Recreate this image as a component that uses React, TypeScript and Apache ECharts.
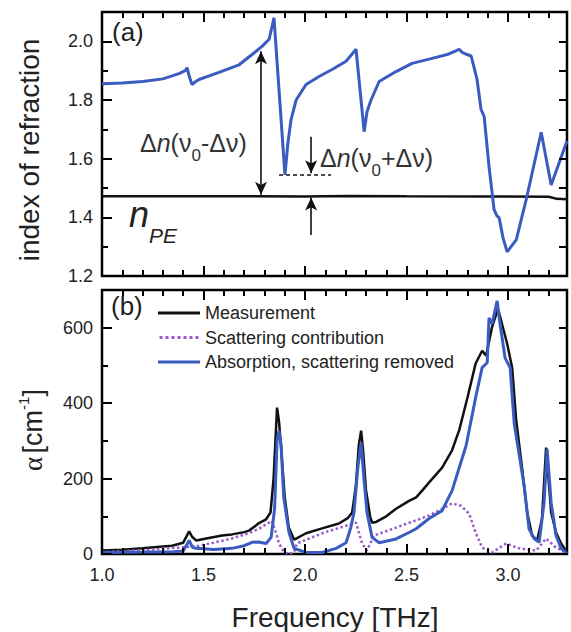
import React, { useEffect, useRef } from 'react';
import * as echarts from 'echarts';

// ---------- data (frequency in THz, value) ----------
const refractionIndex: number[][] = [
  [1.0, 1.855], [1.1, 1.858], [1.2, 1.863], [1.3, 1.872], [1.379, 1.89], [1.41, 1.9], [1.419, 1.91],
  [1.43, 1.88], [1.443, 1.853], [1.46, 1.862], [1.478, 1.87], [1.576, 1.894], [1.675, 1.92],
  [1.739, 1.955], [1.788, 1.983], [1.823, 2.007], [1.847, 2.08], [1.901, 1.545], [1.915, 1.65],
  [1.931, 1.733], [1.956, 1.8], [2.005, 1.853], [2.069, 1.88], [2.133, 1.904], [2.202, 1.932],
  [2.251, 1.973], [2.291, 1.692], [2.305, 1.76], [2.325, 1.8], [2.365, 1.863], [2.448, 1.897],
  [2.527, 1.925], [2.626, 1.942], [2.7, 1.955], [2.759, 1.973], [2.774, 1.962], [2.798, 1.955],
  [2.818, 1.95], [2.847, 1.87], [2.867, 1.767], [2.882, 1.744], [2.906, 1.573], [2.931, 1.426],
  [2.945, 1.405], [2.956, 1.398], [2.975, 1.33], [2.995, 1.282], [3.04, 1.323], [3.089, 1.46],
  [3.163, 1.69], [3.212, 1.51], [3.29, 1.66],
];

const indexPE: number[][] = [
  [1.0, 1.472], [1.5, 1.472], [2.0, 1.471], [2.2, 1.473], [2.5, 1.472], [2.9, 1.471], [3.2, 1.47],
  [3.24, 1.463], [3.29, 1.462],
];

const measurement: number[][] = [
  [1.0, 9], [1.1, 11], [1.2, 15], [1.3, 20], [1.345, 22], [1.4, 30], [1.429, 60], [1.445, 45], [1.463, 36],
  [1.52, 42], [1.591, 49], [1.64, 52], [1.7, 58], [1.724, 62], [1.75, 72], [1.773, 82], [1.808, 92],
  [1.83, 110], [1.845, 200], [1.862, 388], [1.872, 350], [1.885, 260], [1.9, 150], [1.92, 70], [1.946, 38],
  [1.956, 41], [2.005, 55], [2.084, 68], [2.167, 81], [2.21, 95], [2.232, 110], [2.25, 180], [2.265, 290],
  [2.276, 327], [2.285, 280], [2.3, 170], [2.32, 100], [2.33, 83], [2.35, 85], [2.4, 100], [2.448, 120],
  [2.512, 141], [2.547, 150], [2.58, 170], [2.611, 190], [2.675, 229], [2.724, 275], [2.76, 330],
  [2.8, 415], [2.84, 505], [2.872, 539], [2.892, 526], [2.92, 600], [2.95, 650], [2.97, 610],
  [2.995, 558], [3.02, 494], [3.039, 359], [3.069, 226], [3.094, 110], [3.118, 49], [3.143, 36],
  [3.167, 94], [3.187, 282], [3.212, 110], [3.236, 57], [3.261, 28], [3.29, 4],
];

const scattering: number[][] = [
  [1.0, 5], [1.2, 10], [1.4, 18], [1.478, 22], [1.55, 30], [1.64, 41], [1.72, 55], [1.773, 67],
  [1.837, 88], [1.855, 60], [1.872, 28], [1.897, 4], [1.92, 0], [1.946, 5], [1.96, 28], [2.034, 44],
  [2.1, 58], [2.202, 75], [2.251, 83], [2.281, 28], [2.305, 9], [2.34, 49], [2.448, 70], [2.611, 102],
  [2.724, 134], [2.768, 128], [2.808, 107], [2.842, 54], [2.872, 17], [2.921, 4], [2.99, 28],
  [3.054, 15], [3.138, 9], [3.187, 41], [3.236, 17], [3.29, 4],
];

const absorption: number[][] = [
  [1.0, 4], [1.2, 5], [1.35, 6], [1.4, 8], [1.429, 36], [1.445, 18], [1.463, 15], [1.55, 12], [1.64, 15],
  [1.7, 22], [1.739, 31], [1.77, 32], [1.808, 28], [1.833, 44], [1.85, 120], [1.862, 300], [1.872, 327],
  [1.882, 290], [1.895, 150], [1.921, 57], [1.946, 15], [2.005, 4], [2.084, 4], [2.153, 15], [2.202, 30],
  [2.225, 70], [2.241, 110], [2.26, 230], [2.276, 295], [2.29, 200], [2.305, 110], [2.33, 44],
  [2.365, 30], [2.448, 40], [2.512, 57], [2.547, 67], [2.611, 94], [2.675, 115], [2.724, 168],
  [2.793, 287], [2.842, 420], [2.872, 494], [2.897, 507], [2.906, 626], [2.921, 610], [2.946, 671],
  [2.956, 626], [2.985, 520], [3.01, 494], [3.03, 346], [3.079, 181], [3.103, 67], [3.128, 41],
  [3.153, 31], [3.177, 136], [3.192, 279], [3.212, 136], [3.236, 49], [3.261, 15], [3.29, 1],
];

const legendNames = ['Measurement', 'Scattering contribution', 'Absorption, scattering removed'];

// tick positions
const xTicks = [1.0, 1.1, 1.2, 1.3, 1.4, 1.5, 1.6, 1.7, 1.8, 1.9, 2.0, 2.1, 2.2, 2.3, 2.4, 2.5, 2.6, 2.7, 2.8, 2.9, 3.0, 3.1, 3.2];
const yTicksA = [1.2, 1.3, 1.4, 1.5, 1.6, 1.7, 1.8, 1.9, 2.0];
const yTicksB = [0, 100, 200, 300, 400, 500, 600];

// annotation anchors (data coordinates of panel a)
const arrowLeft = { x: 1.783, from: 1.477, to: 1.966 };
const dashedLevel = { y: 1.545, from: 1.872, to: 2.128 };
const arrowDown = { x: 2.03, from: 1.675, to: 1.55 };
const arrowUp = { x: 2.03, from: 1.34, to: 1.468 };

const FONT = '"Liberation Sans", Arial, Helvetica, sans-serif';
const X_MIN = 1.0;
const X_MAX = 3.29;
const YA = [1.2, 2.1];
const YB = [0, 700];
const GRID_LEFT = 102;
const GRID_W = 465;
const GRID_H = 264;

const BLUE = '#3a5bc0';
const PURPLE = '#9a5ccc';
const INK = '#111';

function xAx(grid: number, labels: boolean) {
  return {
    type: 'value', gridIndex: grid, position: 'bottom', min: X_MIN, max: X_MAX, interval: 0.5,
    axisLine: { show: false, onZero: false },
    axisTick: { show: false },
    axisLabel: {
      show: labels, showMaxLabel: false, color: '#222', fontSize: 18, fontFamily: FONT, margin: 12,
      formatter: (v: number) => v.toFixed(1),
    },
    splitLine: { show: false },
  };
}

function yAx(grid: number, min: number, max: number, interval: number, dec: number) {
  return {
    type: 'value', gridIndex: grid, position: 'left', min, max, interval,
    axisLine: { show: false, onZero: false },
    axisTick: { show: false },
    axisLabel: {
      show: true, showMaxLabel: false, color: '#222', fontSize: 18, fontFamily: FONT, margin: 9,
      formatter: (v: number) => v.toFixed(dec),
    },
    splitLine: { show: false },
  };
}

const isMultiple = (v: number, step: number) => Math.abs(v / step - Math.round(v / step)) < 1e-6;

// inward ticks on the four sides of a panel, as marker segments in data space
function tickSegments(yr: number[], yTicks: number[], yMajor: number) {
  const perPxY = (yr[1] - yr[0]) / GRID_H;
  const perPxX = (X_MAX - X_MIN) / GRID_W;
  const ls = { type: 'solid', width: 2, color: '#000' };
  const seg = (a: number[], b: number[]) => [
    { coord: a, symbol: 'none', lineStyle: ls },
    { coord: b, symbol: 'none' },
  ];
  const out: any[] = [];
  xTicks.forEach((v) => {
    const len = isMultiple(v, 0.5) ? 10 : 6;
    out.push(seg([v, yr[0]], [v, yr[0] + len * perPxY]));
    out.push(seg([v, yr[1]], [v, yr[1] - len * perPxY]));
  });
  yTicks.forEach((v) => {
    const len = isMultiple(v, yMajor) ? 10 : 6;
    out.push(seg([X_MIN, v], [X_MIN + len * perPxX, v]));
    out.push(seg([X_MAX, v], [X_MAX - 8 * perPxX, v]));
  });
  return out;
}

const subRich = (base: number, sub: number, lh: number, fill: string) => ({
  t: { fontSize: base, fontFamily: FONT, fill, lineHeight: base + 2, verticalAlign: 'top' },
  i: { fontSize: base, fontFamily: FONT, fontStyle: 'italic', fill, lineHeight: base + 2, verticalAlign: 'top' },
  s: { fontSize: sub, fontFamily: FONT, fill, lineHeight: lh, verticalAlign: 'bottom' },
});

export default function App() {
  const ref = useRef<HTMLDivElement>(null);
  useEffect(() => {
    if (!ref.current) return;
    const chart = echarts.init(ref.current, null, { renderer: 'svg' });
    const arrowLine = (x: number, y1: number, y2: number, s1: string, s2: string) => [
      { coord: [x, y1], symbol: s1, symbolSize: [9, 13] },
      { coord: [x, y2], symbol: s2, symbolSize: [9, 13] },
    ];
    const dots = 'path://M0,0h3v3h-3z M6,0h3v3h-3z M12,0h3v3h-3z M18,0h3v3h-3z M24,0h3v3h-3z M30,0h3v3h-3z M36,0h3v3h-3z';
    const option: any = {
      animation: false,
      grid: [
        { left: GRID_LEFT, top: 12, width: GRID_W, height: GRID_H, show: true, borderColor: '#000', borderWidth: 2.5 },
        { left: GRID_LEFT, top: 290, width: GRID_W, height: GRID_H, show: true, borderColor: '#000', borderWidth: 2.5 },
      ],
      xAxis: [xAx(0, false), xAx(1, true)],
      yAxis: [yAx(0, YA[0], YA[1], 0.2, 1), yAx(1, YB[0], YB[1], 200, 0)],
      legend: {
        show: true, orient: 'vertical', left: 153, top: 299, padding: 5,
        itemWidth: 42, itemHeight: 3, itemGap: 6.5,
        textStyle: { fontSize: 18, fontFamily: FONT, color: '#222', lineHeight: 18 },
        data: [
          { name: legendNames[0], icon: 'rect' },
          { name: legendNames[1], icon: dots },
          { name: legendNames[2], icon: 'rect' },
        ],
        selectedMode: false,
      },
      series: [
        {
          type: 'line', name: 'refraction', xAxisIndex: 0, yAxisIndex: 0, data: refractionIndex, clip: false,
          showSymbol: false, symbol: 'none', lineStyle: { color: BLUE, width: 3 }, z: 3,
        },
        {
          type: 'line', name: 'nPE', xAxisIndex: 0, yAxisIndex: 0, data: indexPE, clip: false,
          showSymbol: false, symbol: 'none', lineStyle: { color: INK, width: 2.5 }, z: 2,
          markLine: {
            silent: true, animation: false, symbol: 'none',
            label: { show: false },
            lineStyle: { color: INK, width: 1.6, type: 'solid' },
            data: [
              arrowLine(arrowLeft.x, arrowLeft.from, arrowLeft.to, 'arrow', 'arrow'),
              arrowLine(arrowDown.x, arrowDown.from, arrowDown.to, 'none', 'arrow'),
              arrowLine(arrowUp.x, arrowUp.from, arrowUp.to, 'none', 'arrow'),
              [
                { coord: [dashedLevel.from, dashedLevel.y], symbol: 'none', lineStyle: { type: [4, 3], width: 1.5, color: INK } },
                { coord: [dashedLevel.to, dashedLevel.y], symbol: 'none' },
              ],
              ...tickSegments(YA, yTicksA, 0.2),
            ],
          },
        },
        {
          type: 'line', name: legendNames[0], xAxisIndex: 1, yAxisIndex: 1, data: measurement, clip: false,
          showSymbol: false, symbol: 'none', lineStyle: { color: INK, width: 2.5 }, itemStyle: { color: INK }, z: 2,
          markLine: {
            silent: true, animation: false, symbol: 'none',
            label: { show: false },
            lineStyle: { color: '#000', width: 2, type: 'solid' },
            data: tickSegments(YB, yTicksB, 200),
          },
        },
        {
          type: 'line', name: legendNames[1], xAxisIndex: 1, yAxisIndex: 1, data: scattering, clip: false,
          showSymbol: false, symbol: 'none', lineStyle: { color: PURPLE, width: 2.5, type: 'dotted' }, itemStyle: { color: PURPLE }, z: 2,
        },
        {
          type: 'line', name: legendNames[2], xAxisIndex: 1, yAxisIndex: 1, data: absorption, clip: false,
          showSymbol: false, symbol: 'none', lineStyle: { color: BLUE, width: 3 }, itemStyle: { color: BLUE }, z: 3,
        },
      ],
      graphic: [
        {
          type: 'text', x: 29, y: 150, rotation: Math.PI / 2,
          style: { text: 'index of refraction', fontSize: 28, fontFamily: FONT, fill: '#222', align: 'center', verticalAlign: 'middle' },
        },
        {
          type: 'text', x: 31, y: 430, rotation: Math.PI / 2,
          style: {
            text: '{g|α} {t|[cm}{s|-1}{t|]}', align: 'center', verticalAlign: 'middle', fill: '#222',
            rich: {
              g: { fontSize: 27, fontFamily: '"Liberation Serif", serif', lineHeight: 30, verticalAlign: 'bottom', fill: '#222' },
              t: { fontSize: 27, fontFamily: FONT, lineHeight: 30, verticalAlign: 'bottom', fill: '#222' },
              s: { fontSize: 15, fontFamily: FONT, lineHeight: 14, verticalAlign: 'top', fill: '#222' },
            },
          },
        },
        {
          type: 'text', x: 335, y: 617,
          style: { text: 'Frequency [THz]', fontSize: 28, fontFamily: FONT, fill: '#222', align: 'center', verticalAlign: 'middle' },
        },
        {
          type: 'text', x: 112, y: 32,
          style: { text: '(a)', fontSize: 26, fontFamily: FONT, fill: '#222', align: 'left', verticalAlign: 'middle' },
        },
        {
          type: 'text', x: 111, y: 306,
          style: { text: '(b)', fontSize: 26, fontFamily: FONT, fill: '#222', align: 'left', verticalAlign: 'middle' },
        },
        {
          type: 'text', x: 140, y: 147,
          style: {
            text: '{t|Δ}{i|n}{t|(ν}{s|0}{t|-Δν)}', align: 'left', verticalAlign: 'middle',
            rich: subRich(25, 17, 33, '#333'),
          },
        },
        {
          type: 'text', x: 320, y: 162,
          style: {
            text: '{t|Δ}{i|n}{t|(ν}{s|0}{t|+Δν)}', align: 'left', verticalAlign: 'middle',
            rich: subRich(25, 17, 33, '#333'),
          },
        },
        {
          type: 'text', x: 129, y: 221,
          style: {
            text: '{n|n}{s|PE}', align: 'left', verticalAlign: 'middle',
            rich: {
              n: { fontSize: 36, fontFamily: FONT, fontStyle: 'italic', fill: '#222', lineHeight: 38, verticalAlign: 'top' },
              s: { fontSize: 21, fontFamily: FONT, fontStyle: 'italic', fill: '#222', lineHeight: 50, verticalAlign: 'bottom' },
            },
          },
        },
      ],
    };
    chart.setOption(option);
    return () => chart.dispose();
  }, []);
  return <div ref={ref} style={{ position: 'fixed', left: 0, top: 0, width: 571, height: 632, background: '#fff' }} />;
}
